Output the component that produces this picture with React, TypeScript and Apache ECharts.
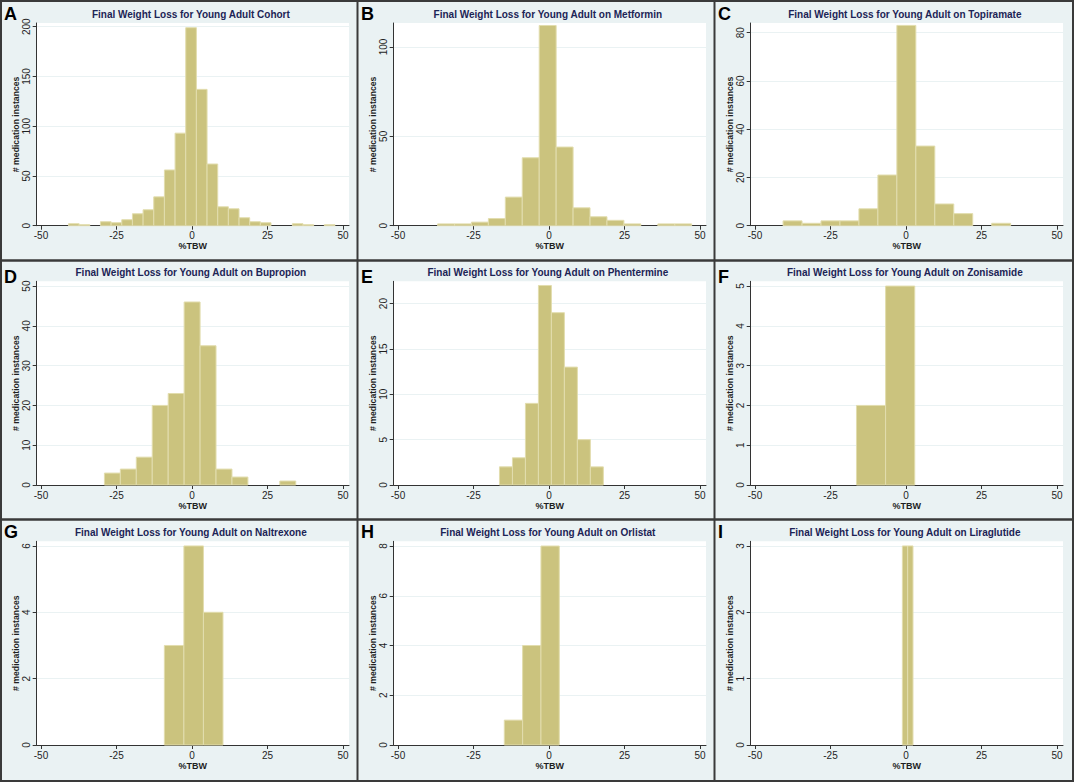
import React, { useEffect, useRef } from 'react';
import * as echarts from 'echarts';

const FONT = '"Liberation Sans", Arial, Helvetica, sans-serif';

const panelLetters = ['A', 'B', 'C', 'D', 'E', 'F', 'G', 'H', 'I'];
const panelTitles = [
  'Final Weight Loss for Young Adult Cohort',
  'Final Weight Loss for Young Adult on Metformin',
  'Final Weight Loss for Young Adult on Topiramate',
  'Final Weight Loss for Young Adult on Bupropion',
  'Final Weight Loss for Young Adult on Phentermine',
  'Final Weight Loss for Young Adult on Zonisamide',
  'Final Weight Loss for Young Adult on Naltrexone',
  'Final Weight Loss for Young Adult on Orlistat',
  'Final Weight Loss for Young Adult on Liraglutide',
];
const xAxisTitle = '%TBW';
const yAxisTitle = '# medication instances';
const xTickValues = [-50, -25, 0, 25, 50];

// histogram bins: first bin start (%TBW) and bin width (%TBW)
const binStarts = [-40.9, -36.9, -40.7, -29.0, -16.4, -16.4, -9.15, -14.8, -1.2];
const binWidths = [3.53, 5.61, 6.28, 5.28, 4.3, 9.65, 6.47, 6.07, 1.76];

const countsCohort = [2, 1, 0, 4, 3, 6, 12, 16, 29, 56, 93, 199, 137, 62, 19, 17, 8, 4, 3, 0, 0, 2, 1, 0, 1];
const countsMetformin = [1, 1, 2, 4, 16, 38, 112, 44, 10, 5, 3, 1, 0, 1, 1];
const countsTopiramate = [2, 1, 2, 2, 7, 21, 83, 33, 9, 5, 0, 1];
const countsBupropion = [3, 4, 7, 20, 23, 46, 35, 4, 2, 0, 0, 1];
const countsPhentermine = [2, 3, 9, 22, 19, 13, 5, 2];
const countsZonisamide = [2, 5];
const countsNaltrexone = [3, 6, 4];
const countsOrlistat = [1, 4, 8];
const countsLiraglutide = [3, 3];

const panelCounts = [
  countsCohort, countsMetformin, countsTopiramate,
  countsBupropion, countsPhentermine, countsZonisamide,
  countsNaltrexone, countsOrlistat, countsLiraglutide,
];

const yTickValues = [
  [0, 50, 100, 150, 200],
  [0, 50, 100],
  [0, 20, 40, 60, 80],
  [0, 10, 20, 30, 40, 50],
  [0, 5, 10, 15, 20],
  [0, 1, 2, 3, 4, 5],
  [0, 2, 4, 6],
  [0, 2, 4, 6, 8],
  [0, 1, 2, 3],
];
const yMaxes = [203.7, 113.4, 84.0, 51.2, 22.46, 5.12, 6.14, 8.19, 3.07];

// layout
const W = 1074;
const H = 782;
const colX = [0, 357, 714];
const gridTopByRow = [23, 281.3, 541.3];
const gridHByRow = [202.7, 203.7, 203.7];
const letterTopByRow = [5, 268, 523];
const GRID_LEFT_OFF = 36.7;
const GRID_W = 312.3;
const X_MIN = -51.42;
const X_MAX = 51.99;

const BG = '#EAF2F3';
const BAR = '#CBC37E';
const BAR_EDGE = '#E2DDAE';
const AXIS = '#333333';
const TXT = '#1f1f1f';
const TITLE = '#1c2456';
const DIV = '#3a3a3a';

function buildOption() {
  const grid: any[] = [];
  const xAxis: any[] = [];
  const yAxis: any[] = [];
  const series: any[] = [];
  const title: any[] = [];
  const graphic: any[] = [];

  for (let i = 0; i < 9; i++) {
    const c = i % 3;
    const r = Math.floor(i / 3);
    const left = colX[c] + GRID_LEFT_OFF;
    const top = gridTopByRow[r];
    const h = gridHByRow[r];
    const ticks = yTickValues[i];

    grid.push({
      left, top, width: GRID_W, height: h,
      show: true, backgroundColor: '#ffffff', borderWidth: 0, containLabel: false,
    });

    xAxis.push({
      gridIndex: i, type: 'value', min: X_MIN, max: X_MAX,
      axisLine: { show: true, onZero: false, lineStyle: { color: AXIS, width: 1 } },
      axisTick: { show: true, customValues: xTickValues, length: 4, lineStyle: { color: AXIS } },
      axisLabel: { customValues: xTickValues, margin: 5, fontSize: 10, color: TXT, fontFamily: FONT },
      splitLine: { show: false },
      name: xAxisTitle, nameLocation: 'middle', nameGap: 16,
      nameTextStyle: { fontWeight: 'bold', fontSize: 9, color: TXT, fontFamily: FONT },
    });

    yAxis.push({
      gridIndex: i, type: 'value', min: 0, max: yMaxes[i], interval: ticks[1] - ticks[0],
      axisLine: { show: true, onZero: false, lineStyle: { color: AXIS, width: 1 } },
      axisTick: { show: true, customValues: ticks, length: 4, lineStyle: { color: AXIS } },
      axisLabel: { customValues: ticks, rotate: 90, margin: 5, fontSize: 10, color: TXT, fontFamily: FONT },
      splitLine: { show: true, lineStyle: { color: BG, width: 1 } },
      name: yAxisTitle, nameLocation: 'middle', nameGap: 16, nameRotate: 90,
      nameTextStyle: { fontWeight: 'bold', fontSize: 8.7, color: TXT, fontFamily: FONT },
    });

    const start = binStarts[i];
    const w = binWidths[i];
    series.push({
      type: 'custom', xAxisIndex: i, yAxisIndex: i,
      data: panelCounts[i].map((n, k) => [start + k * w, start + (k + 1) * w, n]),
      encode: { x: [0, 1], y: 2 },
      renderItem: (_params: any, api: any) => {
        if (!api.value(2)) return null;
        const p0 = api.coord([api.value(0), api.value(2)]);
        const p1 = api.coord([api.value(1), 0]);
        return {
          type: 'rect',
          shape: { x: p0[0], y: p0[1], width: p1[0] - p0[0], height: p1[1] - p0[1] },
          style: { fill: BAR, stroke: BAR_EDGE, lineWidth: 1 },
        };
      },
    });

    title.push({
      text: panelTitles[i],
      left: left + GRID_W / 2 - 2,
      top: top - 13.5,
      textAlign: 'center',
      padding: 0,
      textStyle: { fontSize: 10, fontWeight: 'bold', color: TITLE, fontFamily: FONT },
    });

    graphic.push({
      type: 'text',
      left: colX[c] + 4,
      top: letterTopByRow[r],
      style: { text: panelLetters[i], font: `bold 18px ${FONT}`, fill: '#000' },
    });
  }

  // panel dividers and outer frame
  graphic.push(
    { type: 'line', shape: { x1: 357.5, y1: 0, x2: 357.5, y2: H }, style: { stroke: DIV, lineWidth: 2 } },
    { type: 'line', shape: { x1: 714.5, y1: 0, x2: 714.5, y2: H }, style: { stroke: DIV, lineWidth: 2 } },
    { type: 'line', shape: { x1: 0, y1: 260.5, x2: W, y2: 260.5 }, style: { stroke: DIV, lineWidth: 2.5 } },
    { type: 'line', shape: { x1: 0, y1: 519.5, x2: W, y2: 519.5 }, style: { stroke: DIV, lineWidth: 2.5 } },
    { type: 'rect', shape: { x: 1, y: 1, width: W - 2, height: H - 2 }, style: { fill: 'none', stroke: DIV, lineWidth: 2 } },
  );

  return {
    animation: false,
    backgroundColor: BG,
    title,
    grid,
    xAxis,
    yAxis,
    series,
    graphic,
  };
}

export default function App() {
  const ref = useRef<HTMLDivElement>(null);
  useEffect(() => {
    if (!ref.current) return;
    const chart = echarts.init(ref.current, undefined, { renderer: 'svg', width: W, height: H });
    chart.setOption(buildOption() as any);
    return () => chart.dispose();
  }, []);
  return (
    <div
      ref={ref}
      style={{ position: 'fixed', left: 0, top: 0, width: W, height: H }}
    />
  );
}
